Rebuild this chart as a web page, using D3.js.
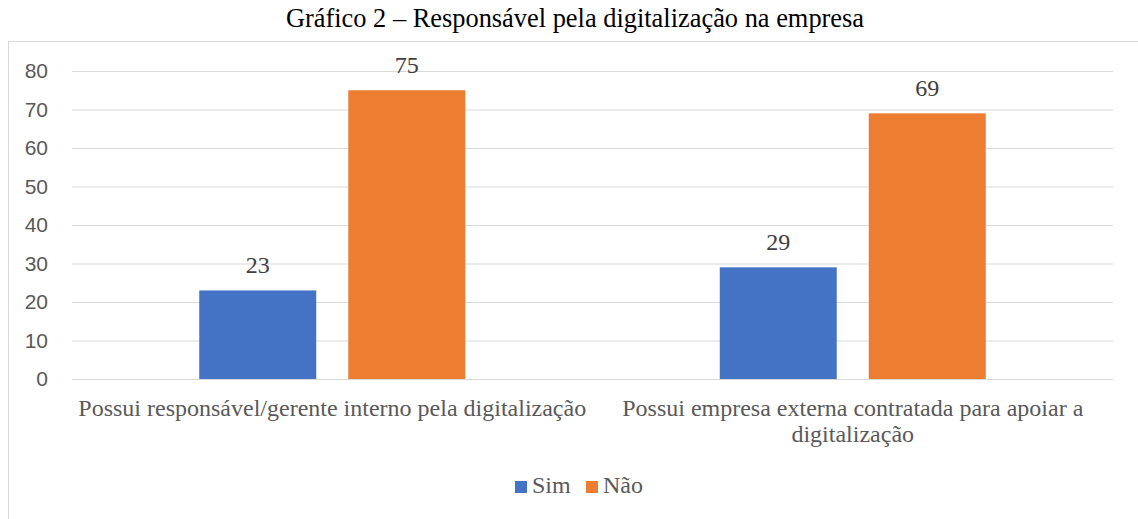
<!DOCTYPE html>
<html>
<head>
<meta charset="utf-8">
<script src="https://cdn.jsdelivr.net/npm/d3@7"></script>
<style>
  body { margin: 0; background: #fff; }
  svg { display: block; }
</style>
</head>
<body>
<div id="chart"></div>
<script>
var categories = [
    ["Possui responsável/gerente interno pela digitalização"],
    ["Possui empresa externa contratada para apoiar a", "digitalização"]
];
var seriesNames = ["Sim", "Não"];
var simValues = [23, 29];
var naoValues = [75, 69];
var yTicks = [0, 10, 20, 30, 40, 50, 60, 70, 80];
var colors = ["#4472C4", "#ED7D31"];

var width = 1138, height = 519;
var margin = {top: 71, right: 25, bottom: 140, left: 72};
var serif = "'Liberation Serif', 'Times New Roman', Times, serif";

var svg = d3.select("#chart")
    .append("svg")
    .attr("width", width)
    .attr("height", height);

// chart frame
svg.append("rect")
    .attr("x", 8.5)
    .attr("y", 41.5)
    .attr("width", width)
    .attr("height", height)
    .attr("fill", "none")
    .attr("stroke", "#d9d9d9");

// title
svg.append("text")
    .attr("x", width / 2 + 6)
    .attr("y", 27)
    .attr("text-anchor", "middle")
    .style("font-family", serif)
    .style("font-size", "26.4px")
    .style("fill", "#000")
    .text("Gráfico 2 – Responsável pela digitalização na empresa");

var x = d3.scaleBand()
    .domain(d3.range(categories.length))
    .range([margin.left, width - margin.right]);

var x1 = d3.scaleBand()
    .domain(d3.range(seriesNames.length))
    .range([0, x.bandwidth()])
    .paddingInner(0.215)
    .paddingOuter(0.854);

var y = d3.scaleLinear()
    .domain([0, 80])
    .range([379, 71]);

// gridlines + y tick labels
var yAxis = svg.append("g")
    .attr("transform", "translate(" + margin.left + ",0)")
    .call(d3.axisLeft(y).tickValues(yTicks).tickSize(-(width - margin.right - margin.left)).tickPadding(24));

yAxis.select(".domain").remove();
yAxis.selectAll("line")
    .attr("stroke", "#d9d9d9")
    .attr("stroke-width", 1);
yAxis.selectAll("text")
    .style("font-family", "'Liberation Sans', Arial, sans-serif")
    .style("font-size", "21px")
    .style("fill", "#595959");

var rows = categories.map(function (c, i) {
    return [simValues[i], naoValues[i]];
});

var groups = svg.append("g")
    .selectAll("g")
    .data(rows)
    .enter().append("g")
    .attr("transform", function (d, i) { return "translate(" + x(i) + ",0)"; });

groups.selectAll("rect")
    .data(function (d) { return d; })
    .enter().append("rect")
    .attr("x", function (d, j) { return x1(j); })
    .attr("y", function (d) { return y(d); })
    .attr("width", x1.bandwidth())
    .attr("height", function (d) { return y(0) - y(d); })
    .attr("fill", function (d, j) { return colors[j]; });

groups.selectAll("text.val")
    .data(function (d) { return d; })
    .enter().append("text")
    .attr("class", "val")
    .attr("x", function (d, j) { return x1(j) + x1.bandwidth() / 2; })
    .attr("y", function (d) { return y(d) - 17; })
    .attr("text-anchor", "middle")
    .style("font-family", serif)
    .style("font-size", "24px")
    .style("fill", "#404040")
    .text(function (d) { return d; });

// category labels
var catLabels = svg.append("g")
    .selectAll("text")
    .data(categories)
    .enter().append("text")
    .attr("x", function (d, i) { return x(i) + x.bandwidth() / 2; })
    .attr("y", 416)
    .attr("text-anchor", "middle")
    .style("font-family", serif)
    .style("font-size", "24px")
    .style("fill", "#595959");

catLabels.selectAll("tspan")
    .data(function (d) { return d; })
    .enter().append("tspan")
    .attr("x", function () { return d3.select(this.parentNode).attr("x"); })
    .attr("dy", function (d, k) { return k === 0 ? 0 : 26; })
    .text(function (d) { return d; });

// legend
var legendX = [515, 586];
var legend = svg.append("g")
    .selectAll("g")
    .data(seriesNames)
    .enter().append("g")
    .attr("transform", function (d, i) { return "translate(" + legendX[i] + ",481)"; });

legend.append("rect")
    .attr("width", 12)
    .attr("height", 12)
    .attr("fill", function (d, i) { return colors[i]; });

legend.append("text")
    .attr("x", 17)
    .attr("y", 12)
    .style("font-family", serif)
    .style("font-size", "24px")
    .style("fill", "#595959")
    .text(function (d) { return d; });
</script>
</body>
</html>
